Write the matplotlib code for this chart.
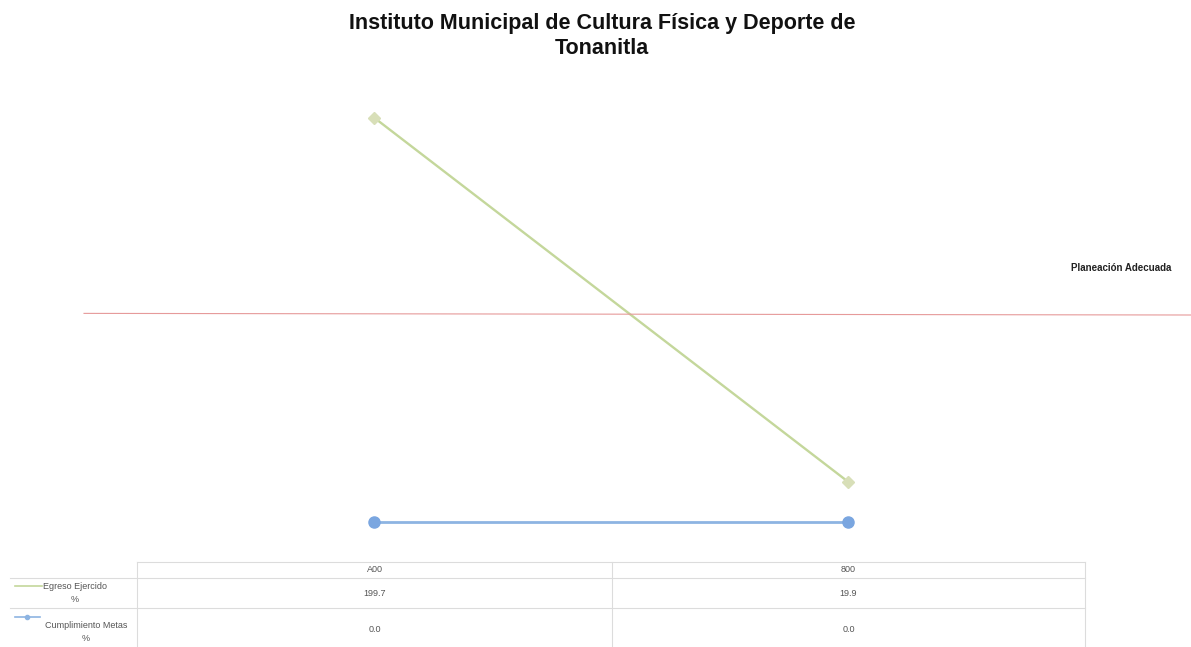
import matplotlib.pyplot as plt
from matplotlib.lines import Line2D
from matplotlib.transforms import blended_transform_factory

plt.rcParams['font.family'] = ['Liberation Sans', 'DejaVu Sans']

categories = ['A00', '800']
egreso = [199.7, 19.9]
metas = [0.0, 0.0]
umbral = 103
row_labels = ['Egreso Ejercido\n%', 'Cumplimiento Metas\n%']

W, H = 1191, 647
fig = plt.figure(figsize=(W / 100, H / 100), dpi=100)

def fx(px):
    return px / W

def fy(py):
    return 1 - py / H

# plot area (pixel box 137..1085 x 90..555)
ax = fig.add_axes([fx(137), fy(555), fx(1085 - 137), (555 - 90) / H])
ax.set_xlim(-0.5, 1.5)
ax.set_ylim(-16.3, 213.3)
ax.axis('off')

x = range(len(categories))
ax.plot(x, egreso, color='#c4d79b', lw=1.7, marker='D', ms=6.5,
        mfc='#d8dfb8', mec='#d8dfb8', zorder=3)
ax.plot(x, metas, color='#8db4e2', lw=2.0, marker='o', ms=8,
        mfc='#7aa6e0', mec='#7aa6e0', zorder=3)

# reference line spans past the plot area
ln = Line2D([fx(84), 1.0], [umbral, umbral - 0.8], color='#e69a9a', lw=0.8,
            transform=blended_transform_factory(fig.transFigure, ax.transData))
fig.add_artist(ln)
fig.text(fx(1121), fy(268), 'Planeación Adecuada', fontsize=7, fontweight='bold',
         ha='center', va='center', color='#222222')

fig.text(fx(602), fy(13), 'Instituto Municipal de Cultura Física y Deporte de\nTonanitla',
         ha='center', va='top', fontsize=15.5, fontweight='bold',
         linespacing=1.25, color='#111111')

# data table under the chart
grid = '#dcdcdc'
col_x = [137, 612, 1085]
for yy in [578, 608]:
    fig.add_artist(Line2D([fx(10), fx(1085)], [fy(yy), fy(yy)], color=grid, lw=0.8))
fig.add_artist(Line2D([fx(137), fx(1085)], [fy(562), fy(562)], color=grid, lw=0.8))
for xx in col_x:
    fig.add_artist(Line2D([fx(xx), fx(xx)], [fy(562), fy(647)], color=grid, lw=0.8))

centers = [(col_x[i] + col_x[i + 1]) / 2 for i in range(len(categories))]
tcol = '#555555'
for cx, cat, e, m in zip(centers, categories, egreso, metas):
    fig.text(fx(cx), fy(570), cat, fontsize=6.5, ha='center', va='center', color=tcol)
    fig.text(fx(cx), fy(593), f'{e:.1f}', fontsize=6.5, ha='center', va='center', color=tcol)
    fig.text(fx(cx), fy(630), f'{m:.1f}', fontsize=6.5, ha='center', va='center', color=tcol)

# legend keys
fig.add_artist(Line2D([fx(15), fx(42)], [fy(586), fy(586)], color='#c4d79b', lw=1.2))
fig.text(fx(75), fy(593), row_labels[0], fontsize=6.5, ha='center', va='center',
         color=tcol, linespacing=1.5)
fig.add_artist(Line2D([fx(15), fx(40)], [fy(617), fy(617)], color='#8db4e2', lw=1.2))
fig.add_artist(Line2D([fx(27)], [fy(617)], color='#8db4e2', marker='o', ms=3, lw=0))
fig.text(fx(86), fy(632), row_labels[1], fontsize=6.5, ha='center', va='center',
         color=tcol, linespacing=1.5)

fig.savefig('out.png', dpi=100)
